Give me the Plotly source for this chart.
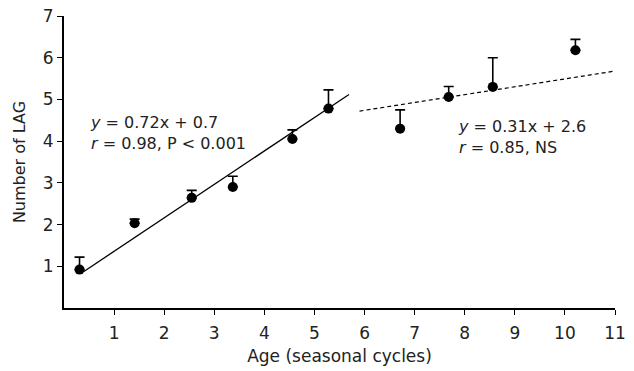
import plotly.graph_objects as go

# Data
age = [0.31, 1.41, 2.55, 3.37, 4.56, 5.28, 6.71, 7.68, 8.56, 10.21]
lag = [0.92, 2.03, 2.64, 2.90, 4.05, 4.78, 4.30, 5.06, 5.30, 6.18]
err_up = [0.30, 0.10, 0.18, 0.26, 0.22, 0.45, 0.45, 0.25, 0.70, 0.26]

fit1_x = [0.39, 5.69]
fit1_y = [0.87, 5.12]
fit2_x = [5.90, 11.0]
fit2_y = [4.72, 5.68]

x_ticks = [1, 2, 3, 4, 5, 6, 7, 8, 9, 10, 11]
y_ticks = [1, 2, 3, 4, 5, 6, 7]

FONT = "DejaVu Sans"
TXT = "#222222"

fig = go.Figure()

fig.add_trace(go.Scatter(
    x=fit1_x, y=fit1_y, mode="lines",
    line=dict(color="black", width=1.3),
    hoverinfo="skip", showlegend=False))

fig.add_trace(go.Scatter(
    x=fit2_x, y=fit2_y, mode="lines",
    line=dict(color="black", width=1.2, dash="4px,3px"),
    hoverinfo="skip", showlegend=False))

fig.add_trace(go.Scatter(
    x=age, y=lag, mode="markers",
    marker=dict(color="black", size=10),
    error_y=dict(type="data", symmetric=False, array=err_up,
                 arrayminus=[0] * len(err_up),
                 color="black", thickness=1.6, width=5),
    showlegend=False))

ann_font = dict(family=FONT, size=16, color=TXT)
annotations = [
    dict(x=0.47, y=4.20, text="<i>y</i> = 0.72x + 0.7<br><i>r</i> = 0.98, P < 0.001"),
    dict(x=7.83, y=4.09, text="<i>y</i> = 0.31x + 2.6<br><i>r</i> = 0.85, NS"),
]
for a in annotations:
    a.update(xref="x", yref="y", xanchor="left", yanchor="middle", align="left",
             showarrow=False, font=ann_font)

fig.update_layout(
    width=634, height=371,
    margin=dict(l=64, r=19, t=16, b=63),
    paper_bgcolor="white", plot_bgcolor="white",
    font=dict(family=FONT, size=17, color=TXT),
    annotations=annotations,
    xaxis=dict(
        range=[0, 11], tickmode="array", tickvals=x_ticks,
        ticktext=[str(v) for v in x_ticks],
        showgrid=False, zeroline=False, automargin=False,
        showline=True, linecolor="black", linewidth=2,
        ticks="outside", ticklen=5, tickwidth=1.2, tickcolor="black",
        ticklabelstandoff=4,
        tickfont=dict(family=FONT, size=17, color=TXT),
        title=dict(text="Age (seasonal cycles)",
                   font=dict(family=FONT, size=17, color=TXT), standoff=8),
    ),
    yaxis=dict(
        range=[0, 7], tickmode="array", tickvals=y_ticks,
        ticktext=[str(v) for v in y_ticks],
        showgrid=False, zeroline=False, automargin=False,
        showline=True, linecolor="black", linewidth=2,
        ticks="outside", ticklen=5, tickwidth=1.2, tickcolor="black",
        tickfont=dict(family=FONT, size=17, color=TXT),
        title=dict(text="Number of LAG",
                   font=dict(family=FONT, size=16, color=TXT), standoff=13),
    ),
)

fig.write_html("out.html")
